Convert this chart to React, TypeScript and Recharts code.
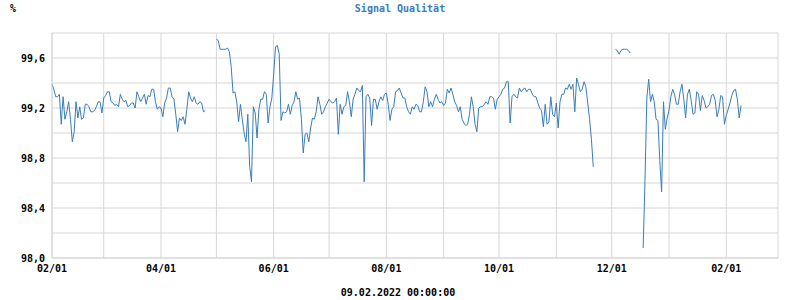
import React from "react";
import { LineChart, Line, XAxis, YAxis, CartesianGrid } from "recharts";

// Daily signal quality (%) starting 2021-02-01; null = no data
const feb21: (number | null)[] = [99.39, 99.35, 99.29, 99.29, 99.31, 99.07, 99.29, 99.11, 99.17, 99.25, 99.11, 98.93, 99.01, 99.25, 99.12, 99.21, 99.11, 99.12, 99.23, 99.23, 99.21, 99.17, 99.17, 99.18, 99.21, 99.25, 99.25, 99.16];
const mar21: (number | null)[] = [99.28, 99.30, 99.33, 99.33, 99.25, 99.24, 99.22, 99.23, 99.21, 99.31, 99.27, 99.25, 99.26, 99.21, 99.22, 99.24, 99.24, 99.20, 99.33, 99.29, 99.25, 99.28, 99.31, 99.23, 99.30, 99.29, 99.35, 99.35, 99.25, 99.19, 99.21];
const apr21: (number | null)[] = [99.20, 99.13, 99.24, 99.28, 99.36, 99.36, 99.29, 99.27, 99.15, 99.01, 99.12, 99.10, 99.13, 99.07, 99.19, 99.33, 99.28, 99.25, 99.29, 99.24, 99.23, 99.25, 99.24, 99.17, 99.18, null, null, null, null, null];
const may21: (number | null)[] = [99.75, 99.74, 99.67, 99.67, 99.67, 99.67, 99.68, 99.65, 99.53, 99.32, 99.33, 99.25, 99.09, 99.23, 99.11, 99.00, 98.93, 99.15, 98.73, 98.61, 99.21, 99.16, 98.96, 99.19, 99.27, 99.27, 99.33, 99.31, 99.08, 99.21, 99.28];
const jun21: (number | null)[] = [99.47, 99.69, 99.70, 99.63, 99.10, 99.17, 99.16, 99.17, 99.23, 99.15, 99.22, 99.25, 99.33, 99.27, 99.28, 99.11, 98.84, 98.99, 99.00, 98.93, 99.04, 99.12, 99.11, 99.17, 99.29, 99.23, 99.15, 99.17, 99.21, 99.24];
const jul21: (number | null)[] = [99.27, 99.25, 99.24, 99.25, 99.28, 98.99, 99.23, 99.15, 99.21, 99.22, 99.33, 99.25, 99.13, 99.27, 99.31, 99.36, 99.34, 99.33, 99.38, 98.61, 99.29, 99.31, 99.28, 99.06, 99.27, 99.27, 99.19, 99.25, 99.29, 99.26, 99.31];
const aug21: (number | null)[] = [99.32, 99.23, 99.10, 99.19, 99.21, 99.33, 99.34, 99.36, 99.32, 99.28, 99.28, 99.21, 99.17, 99.15, 99.21, 99.19, 99.23, 99.22, 99.17, 99.17, 99.25, 99.37, 99.33, 99.21, 99.25, 99.21, 99.27, 99.31, 99.27, 99.24, 99.25];
const sep21: (number | null)[] = [99.22, 99.24, 99.35, 99.32, 99.36, 99.31, 99.25, 99.22, 99.17, 99.21, 99.11, 99.08, 99.06, 99.07, 99.15, 99.29, 99.21, 99.07, 99.01, 99.20, 99.21, 99.21, 99.23, 99.25, 99.23, 99.29, 99.29, 99.28, 99.19, 99.27];
const oct21: (number | null)[] = [99.29, 99.31, 99.35, 99.36, 99.41, 99.41, 99.08, 99.29, 99.31, 99.29, 99.28, 99.36, 99.33, 99.35, 99.36, 99.33, 99.35, 99.35, 99.31, 99.29, 99.29, 99.24, 99.20, 99.18, 99.05, 99.23, 99.07, 99.09, 99.29, 99.15, 99.13];
const nov21: (number | null)[] = [99.24, 99.04, 99.25, 99.31, 99.31, 99.36, 99.35, 99.39, 99.35, 99.39, 99.17, 99.44, 99.39, 99.33, 99.35, 99.41, 99.37, 99.24, 99.11, 98.95, 98.73, null, null, null, null, null, null, null, null, null];
const dec21: (number | null)[] = [null, null, 99.67, 99.66, 99.63, 99.66, 99.67, 99.67, 99.67, 99.66, 99.64, null, null, null, null, null, null, 98.08, 98.62, 99.28, 99.43, 99.25, 99.31, 99.25, 99.11, 99.10, 98.78, 98.53, 99.25, 99.03, 99.12];
const jan22: (number | null)[] = [99.18, 99.29, 99.35, 99.31, 99.23, 99.23, 99.33, 99.39, 99.27, 99.12, 99.31, 99.35, 99.26, 99.15, 99.16, 99.33, 99.31, 99.18, 99.30, 99.26, 99.20, 99.21, 99.23, 99.30, 99.31, 99.26, 99.13, 99.19, 99.30, 99.29, 99.07];
const feb22: (number | null)[] = [99.14, 99.19, 99.24, 99.30, 99.34, 99.35, 99.27, 99.12, 99.22];

// Month starts as day offsets from 2021-02-01 (last = 2022-03-01, axis end)
const monthTicks = [0, 28, 59, 89, 120, 150, 181, 212, 242, 273, 303, 334, 365, 393];
const monthLabels = ["02/01", "", "04/01", "", "06/01", "", "08/01", "", "10/01", "", "12/01", "", "02/01", ""];
const yTicks = [98.0, 98.2, 98.4, 98.6, 98.8, 99.0, 99.2, 99.4, 99.6, 99.8];

const allValues = [...feb21, ...mar21, ...apr21, ...may21, ...jun21, ...jul21, ...aug21, ...sep21, ...oct21, ...nov21, ...dec21, ...jan22, ...feb22];
const data = allValues.map((v, i) => ({ day: i, value: v }));

const FONT = "'DejaVu Sans Mono', 'Liberation Mono', monospace";
const BLUE = "#3b7dba";

export default function App() {
  const tickStyle = { fontFamily: FONT, fontSize: 10, fontWeight: "bold" as const, fill: "#000" };
  return (
    <div style={{ position: "absolute", left: 0, top: 0, width: 800, height: 300, background: "#fff" }}>
      <LineChart width={800} height={300} data={data} margin={{ top: 33, right: 22, left: 0, bottom: 0 }}>
        <CartesianGrid stroke="#d6d6d6" strokeWidth={1} />
        <XAxis
          dataKey="day"
          type="number"
          domain={[0, 393]}
          ticks={monthTicks}
          interval={0}
          tickFormatter={(v: number) => monthLabels[monthTicks.indexOf(v)] ?? ""}
          tickLine={false}
          axisLine={{ stroke: "#d6d6d6" }}
          tick={tickStyle}
          tickSize={6}
          tickMargin={1}
          height={42}
        />
        <YAxis
          type="number"
          domain={[98.0, 99.8]}
          ticks={yTicks}
          interval={0}
          tickFormatter={(v: number) => (Math.round(v * 10) % 4 === 0 ? v.toFixed(1).replace(".", ",") : "")}
          tickLine={false}
          axisLine={{ stroke: "#d6d6d6" }}
          tick={tickStyle}
          tickSize={6}
          tickMargin={1}
          width={52}
          allowDataOverflow
        />
        <Line
          type="linear"
          dataKey="value"
          stroke={BLUE}
          strokeWidth={1}
          dot={false}
          activeDot={false}
          connectNulls={false}
          isAnimationActive={false}
        />
      </LineChart>
      <svg width={800} height={300} style={{ position: "absolute", left: 0, top: 0, pointerEvents: "none" }}>
        <text x={10} y={12} fontFamily={FONT} fontSize={10} fontWeight="bold" fill="#000">%</text>
        <text x={400} y={12} textAnchor="middle" fontFamily={FONT} fontSize={10} fontWeight="bold" fill={BLUE}>Signal Qualität</text>
        <text x={398} y={296} textAnchor="middle" fontFamily={FONT} fontSize={10} fontWeight="bold" fill="#000">09.02.2022 00:00:00</text>
      </svg>
    </div>
  );
}
